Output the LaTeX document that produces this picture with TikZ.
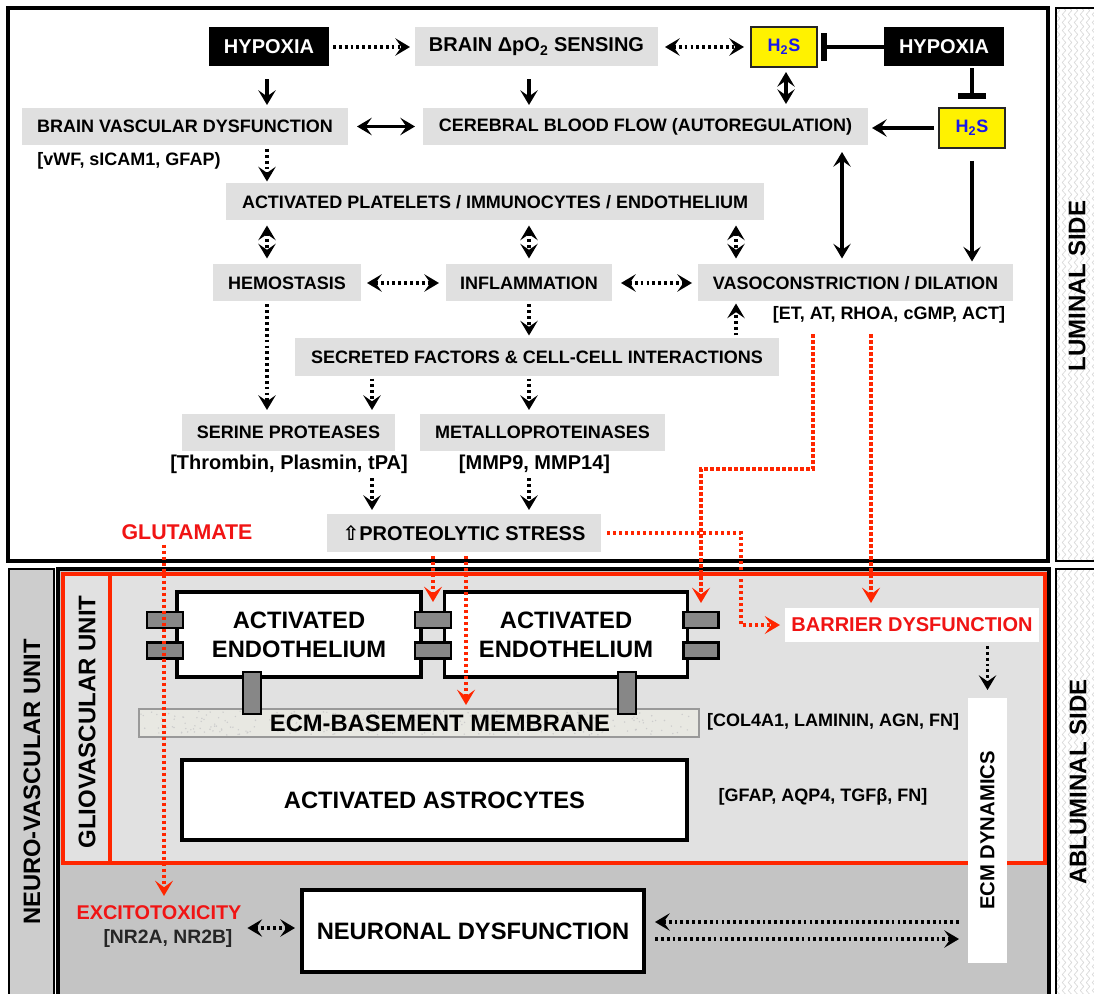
\documentclass[tikz,border=0pt]{standalone}
\usepackage{fontspec}
\setmainfont{Liberation Sans}
\newfontfamily\symfont{DejaVu Sans}
\usetikzlibrary{arrows.meta,decorations.pathmorphing,calc}
\definecolor{boxgray}{RGB}{224,224,224}
\definecolor{gliofill}{RGB}{225,225,225}
\definecolor{nvufill}{RGB}{196,196,196}
\definecolor{stripfill}{RGB}{205,205,205}
\definecolor{myred}{RGB}{255,38,0}
\definecolor{txtred}{RGB}{240,20,20}
\definecolor{h2sblue}{RGB}{25,25,235}
\definecolor{conngray}{RGB}{135,135,135}
\definecolor{membfill}{RGB}{232,232,226}
\begin{document}
\begin{tikzpicture}[x=0.75pt,y=-0.75pt,
  every node/.style={inner sep=0pt, outer sep=0pt},
  fs/.style={font=\bfseries\fontsize{13.5}{15}\selectfont},
  fsl/.style={font=\bfseries\fontsize{15}{17}\selectfont},
  fsb/.style={font=\bfseries\fontsize{17.8}{21.7}\selectfont},
  bw/.style={minimum width={#1*0.75pt}},
  bh/.style={minimum height={#1*0.75pt}},
  gbox/.style={fs, fill=boxgray, bh=37},
  blkbox/.style={fsl, fill=black, text=white, bh=39},
  h2sbox/.style={fs, fill=yellow, draw=black!85, line width=1.4pt, text=h2sblue, bh=40, bw=66},
  wbox/.style={fsb, fill=white, draw=black, line width=2.6pt, align=center},
  conn/.style={fill=conngray, draw=black, line width=2pt},
  lab/.style={fs},
  redlab/.style={font=\bfseries\fontsize{16}{18}\selectfont, text=txtred},
  g/.style 2 args={shorten <={#1*0.75pt}, shorten >={#2*0.75pt}},
  mytip/.tip={Stealth[length=11pt,width=13pt,inset=4.5pt]},
  redtip/.tip={Stealth[length=11.5pt,width=13.5pt,inset=5pt]},
  sol/.style={line width=2.3pt},
  dts/.style={line width=2.5pt, dash pattern=on 2.1pt off 2.3pt},
  sarr/.style={sol, -mytip},
  sdbl/.style={sol, mytip-mytip},
  darr/.style={dts, -mytip},
  ddbl/.style={dts, mytip-mytip},
  rarr/.style={myred, line width=2.5pt, dash pattern=on 2.4pt off 2.1pt, -redtip},
  inh/.style={sol, -{Bar[width=21pt,line width=4.5pt]}}
]
\useasboundingbox (0,0) rectangle (1094,994);
% column / row coordinates
\coordinate (X164) at (164,0);
\coordinate (X267) at (267,0);
\coordinate (X372) at (372,0);
\coordinate (X433) at (433,0);
\coordinate (X466) at (466,0);
\coordinate (X529) at (529,0);
\coordinate (X736) at (736,0);
\coordinate (X741) at (741,0);
\coordinate (X786) at (786,0);
\coordinate (X813) at (813,0);
\coordinate (X842) at (842,0);
\coordinate (X871) at (871,0);
\coordinate (X972) at (972,0);
\coordinate (Y469) at (0,469);
\coordinate (Y922) at (0,922);
\coordinate (Y928) at (0,928);
\coordinate (Y939) at (0,939);

% ---------- frames ----------
\draw[line width=3pt] (8,8) rectangle (1048,561);
\begin{scope}
  \clip (1056,8) rectangle (1094,561);
  \fill[white] (1056,8) rectangle (1094,561);
  \foreach \xx in {1058,1064,...,1094}
    \draw[gray!30, line width=0.5pt, decorate, decoration={snake,amplitude=1.3pt,segment length=6pt}] (\xx,0) -- (\xx,570);
\end{scope}
\draw[line width=1pt] (1100,8) -- (1056,8) -- (1056,561) -- (1100,561);
\begin{scope}
  \clip (1056,569) rectangle (1094,994);
  \fill[white] (1056,569) rectangle (1094,994);
  \foreach \xx in {1058,1064,...,1094}
    \draw[gray!30, line width=0.5pt, decorate, decoration={snake,amplitude=1.3pt,segment length=6pt}] (\xx,560) -- (\xx,1000);
\end{scope}
\draw[line width=1pt] (1100,569) -- (1056,569) -- (1056,1000);
\node[font=\bfseries\fontsize{18}{20}\selectfont, rotate=90] (lum) at (1077,286) {LUMINAL SIDE};
\node[font=\bfseries\fontsize{18}{20}\selectfont, rotate=90] (ablum) at (1078,782) {ABLUMINAL SIDE};

% ---------- bottom region ----------
\draw[line width=1.6pt, fill=stripfill] (9,569) rectangle (54,1000);
\draw[line width=2.6pt, fill=nvufill] (58,569) rectangle (1049,1000);
\draw[myred, line width=2.6pt, fill=gliofill] (63,574) rectangle (1045,863);
\draw[myred, line width=2.6pt] (110,574) -- (110,863);
\node[font=\bfseries\fontsize{17.8}{20}\selectfont, rotate=90] (nvu) at (32,782) {NEURO-VASCULAR UNIT};
\node[font=\bfseries\fontsize{18}{20}\selectfont, rotate=90] (gvu) at (87,722) {GLIOVASCULAR UNIT};

% ---------- top nodes ----------
\node[blkbox, bw=120] (hyp1) at (269,47) {HYPOXIA};
\node[gbox, fsl, bw=243, bh=39] (sens) at (536.5,47) {BRAIN ΔpO\textsubscript{2} SENSING};
\node[h2sbox] (h2sA) at (784,47) {H\textsubscript{2}S};
\node[blkbox, bw=120] (hyp2) at (944,47) {HYPOXIA};
\node[gbox, bw=326] (bvd) at (185,126.5) {BRAIN VASCULAR DYSFUNCTION};
\node[gbox, bw=445] (cbf) at (645.5,126.5) {CEREBRAL BLOOD FLOW (AUTOREGULATION)};
\node[h2sbox] (h2sB) at (972,128) {H\textsubscript{2}S};
\node[lab] (bvdlab) at (129,161) {[vWF, sICAM1, GFAP)};
\node[gbox, bw=538] (act) at (495,202) {ACTIVATED PLATELETS / IMMUNOCYTES / ENDOTHELIUM};
\node[gbox, bw=148] (hemo) at (287,283) {HEMOSTASIS};
\node[gbox, bw=166] (infl) at (529,283) {INFLAMMATION};
\node[gbox, bw=315] (vaso) at (855.5,283) {VASOCONSTRICTION / DILATION};
\node[lab] (vasolab) at (889,315) {[ET, AT, RHOA, cGMP, ACT]};
\node[gbox, bw=484] (secr) at (537,357) {SECRETED FACTORS \& CELL-CELL INTERACTIONS};
\node[gbox, bw=213] (seri) at (288.5,432.5) {SERINE PROTEASES};
\node[gbox, bw=245] (metal) at (542.5,432.5) {METALLOPROTEINASES};
\node[fsl] (serilab) at (289,464) {[Thrombin, Plasmin, tPA]};
\node[fsl] (metallab) at (534.5,464) {[MMP9, MMP14]};
\node[gbox, fsl, bw=274, bh=38] (prot) at (464,533) {{\symfont ⇧}PROTEOLYTIC STRESS};
\node[redlab] (glut) at (187,532) {GLUTAMATE};

% ---------- bottom nodes ----------
\node[wbox, bw=244, bh=85] (endo1) at (299,634.5) {ACTIVATED\\ENDOTHELIUM};
\node[wbox, bw=243, bh=85] (endo2) at (566,634.5) {ACTIVATED\\ENDOTHELIUM};
\node[draw=gray!80, line width=0.8pt, fill=membfill, bw=560, bh=28] (memb) at (419,723) {};
\pgfmathsetseed{7}
\foreach \i in {1,...,260}{
  \pgfmathsetmacro\rx{141+555*rnd}
  \pgfmathsetmacro\ry{711+24*rnd}
  \fill[gray!40] (\rx,\ry) circle (0.6pt);
}
\node[fsb] (membtxt) at (440,723) {ECM-BASEMENT MEMBRANE};
\node[conn, bw=36, bh=16] (cL1) at (165,620) {};
\node[conn, bw=36, bh=16] (cL2) at (165,650.5) {};
\node[conn, bw=36, bh=16] (cM1) at (433,620) {};
\node[conn, bw=36, bh=16] (cM2) at (433,650.5) {};
\node[conn, bw=35, bh=16] (cR1) at (701,620) {};
\node[conn, bw=35, bh=16] (cR2) at (701,650.5) {};
\node[conn, bw=18, bh=42] (cB1) at (252,693) {};
\node[conn, bw=18, bh=42] (cB2) at (627,693) {};
\node[lab] (ecmlab) at (833,722) {[COL4A1, LAMININ, AGN, FN]};
\node[wbox, bw=505, bh=80] (astro) at (434.5,800) {ACTIVATED ASTROCYTES};
\node[lab] (astrolab) at (823,797) {[GFAP, AQP4, TGFβ, FN]};
\node[fill=white, bw=254, bh=34, font=\bfseries\fontsize{15}{17}\selectfont, text=txtred] (barrier) at (912,625) {BARRIER DYSFUNCTION};
\node[fill=white, bw=39, bh=265] (ecmdyn) at (987.5,830.5) {};
\node[font=\bfseries\fontsize{15.2}{17}\selectfont, rotate=90] (ecmtxt) at (ecmdyn) {ECM DYNAMICS};
\node[wbox, bw=342, bh=82] (neuro) at (473,931) {NEURONAL DYSFUNCTION};
\node[redlab, font=\bfseries\fontsize{14.9}{16}\selectfont] (excit) at (159,913) {EXCITOTOXICITY};
\node[font=\bfseries\fontsize{14.5}{16}\selectfont, text=black!85] (nrlab) at (168,938) {[NR2A, NR2B]};

% ---------- top connectors ----------
\draw[darr, g={4}{5}] (hyp1.east) -- (sens.west);
\draw[ddbl, g={7}{7}] (sens.east) -- (h2sA.west);
\draw[inh, g={0}{4}] (hyp2.west) -- (h2sA.east);
\draw[inh, g={2}{9}] (hyp2.south -| X972) -- (h2sB.north);
\draw[sdbl, g={5}{4}] (h2sA.south -| X786) -- (cbf.north -| X786);
\draw[sarr, g={13}{3}] (hyp1.south -| X267) -- (bvd.north -| X267);
\draw[sarr, g={13}{3}] (sens.south -| X529) -- (cbf.north -| X529);
\draw[sdbl, g={9}{8}] (bvd.east) -- (cbf.west);
\draw[sarr, g={5}{4}] (h2sB.west) -- (cbf.east |- h2sB.west);
\draw[sarr, g={13}{3}] (h2sB.south) -- (vaso.north -| h2sB.south);
\draw[sdbl, g={7}{6}] (cbf.south -| X842) -- (vaso.north -| X842);
\draw[darr, g={4}{2}] (bvd.south -| X267) -- (act.north -| X267);
\draw[ddbl, g={5}{6}] (act.south -| X267) -- (hemo.north -| X267);
\draw[ddbl, g={5}{6}] (act.south -| X529) -- (infl.north -| X529);
\draw[ddbl, g={5}{6}] (act.south -| X736) -- (vaso.north -| X736);
\draw[ddbl, g={6}{7}] (hemo.east) -- (infl.west);
\draw[ddbl, g={9}{6}] (infl.east) -- (vaso.west);
\draw[darr, g={3}{3}] (infl.south -| X529) -- (secr.north -| X529);
\draw[darr, g={3}{2}] (secr.north -| X736) -- (vaso.south -| X736);
\draw[darr, g={3}{4}] (hemo.south -| X267) -- (seri.north -| X267);
\draw[darr, g={3}{4}] (secr.south -| X372) -- (seri.north -| X372);
\draw[darr, g={3}{4}] (secr.south -| X529) -- (metal.north -| X529);
\draw[darr, g={5}{4}] (serilab.south -| X372) -- (prot.north -| X372);
\draw[darr, g={5}{4}] (metallab.south -| X529) -- (prot.north -| X529);

% ---------- bottom connectors ----------
\draw[darr, g={4}{8}] (barrier.south -| ecmdyn.north) -- (ecmdyn.north);
\draw[darr, g={9}{11}] (ecmdyn.west |- Y922) -- (neuro.east |- Y922);
\draw[darr, g={11}{9}] (neuro.east |- Y939) -- (ecmdyn.west |- Y939);
\draw[ddbl, g={6}{7}] (excit.east |- Y928) -- (neuro.west |- Y928);

% ---------- red connectors ----------
\draw[rarr, g={11}{9}] (vasolab.south -| X813) |- (cR1.north |- Y469) -- (cR1.north);
\draw[rarr, g={11}{5}] (vasolab.south -| X871) -- (barrier.north -| X871);
\draw[rarr, g={6}{5}] (prot.east) -| (X741 |- barrier.west) -- (barrier.west);
\draw[rarr, g={4}{10}] (prot.south -| X433) -- (cM1.north);
\draw[rarr, g={4}{4}] (prot.south -| X466) -- (memb.north -| X466);
\draw[rarr, g={5}{10}] (glut.south -| X164) -- (excit.north -| X164);
\end{tikzpicture}
\end{document}
